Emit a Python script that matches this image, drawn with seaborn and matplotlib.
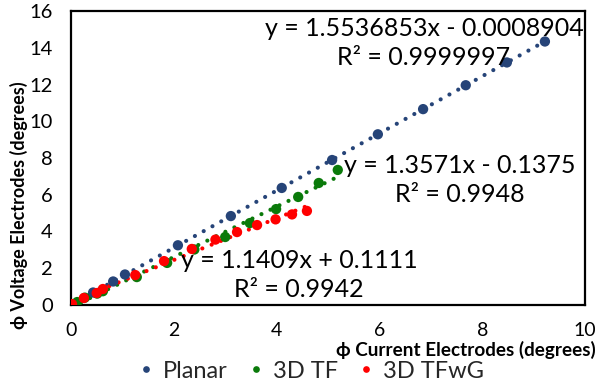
import numpy as np
import pandas as pd
import matplotlib
matplotlib.use("Agg")
import matplotlib.pyplot as plt
import seaborn as sns

# ---- data ----
planar_x = [0.02, 0.43, 0.82, 1.05, 2.08, 3.11, 4.10, 5.08, 5.97, 6.85, 7.68, 8.48, 9.22]
planar_y = [0.02, 0.68, 1.28, 1.66, 3.25, 4.84, 6.37, 7.89, 9.29, 10.66, 11.96, 13.20, 14.34]

tf_x = [0.02, 0.12, 0.27, 0.51, 0.62, 1.28, 1.87, 2.40, 3.00, 3.48, 3.99, 4.42, 4.82, 5.19]
tf_y = [0.00, 0.16, 0.40, 0.62, 0.75, 1.52, 2.29, 3.02, 3.70, 4.46, 5.22, 5.88, 6.64, 7.35]

tfwg_x = [0.02, 0.25, 0.50, 0.62, 1.25, 1.81, 2.35, 2.81, 3.23, 3.62, 3.98, 4.30, 4.59]
tfwg_y = [0.05, 0.38, 0.65, 0.87, 1.63, 2.39, 3.05, 3.56, 3.97, 4.35, 4.66, 4.93, 5.12]

series_names = ["Planar", "3D TF", "3D TFwG"]
equations = ["y = 1.5536853x - 0.0008904\nR² = 0.9999997",
             "y = 1.3571x - 0.1375\nR² = 0.9948",
             "y = 1.1409x + 0.1111\nR² = 0.9942"]
x_label = "ϕ Current Electrodes (degrees)"
y_label = "ϕ Voltage Electrodes (degrees)"

colors = {"Planar": "#264478", "3D TF": "#0A7A0A", "3D TFwG": "#FF0000"}

df = pd.concat([
    pd.DataFrame({"x": planar_x, "y": planar_y, "series": "Planar"}),
    pd.DataFrame({"x": tf_x, "y": tf_y, "series": "3D TF"}),
    pd.DataFrame({"x": tfwg_x, "y": tfwg_y, "series": "3D TFwG"}),
], ignore_index=True)

sns.set_theme(style="white")
plt.rcParams["font.family"] = ["Lato", "DejaVu Sans"]

fig = plt.figure(figsize=(6.02, 3.83), dpi=100)
ax = fig.add_axes([71/602, 1 - 305/383, 514/602, 294/383])

# trendlines
for name in series_names:
    sub = df[df.series == name]
    sns.regplot(data=sub, x="x", y="y", ax=ax, scatter=False, ci=None,
                color=colors[name],
                line_kws=dict(linestyle=(0, (0.01, 2.4)), linewidth=3.0,
                              dash_capstyle="round", zorder=2))

sns.scatterplot(data=df, x="x", y="y", hue="series", hue_order=series_names,
                palette=colors, s=55, edgecolor="none", ax=ax, zorder=3,
                legend=True)

ax.set_xlim(0, 10)
ax.set_ylim(0, 16)
ax.set_xticks(np.arange(0, 11, 2))
ax.set_yticks(np.arange(0, 17, 2))
ax.tick_params(axis="both", length=0, labelsize=14.5, colors="#000000")
ax.tick_params(axis="x", pad=12, labelsize=14)
ax.tick_params(axis="y", pad=13)
for sp in ax.spines.values():
    sp.set_color("black")
    sp.set_linewidth(1.6)

ax.set_xlabel(x_label, fontsize=13.6, fontweight="bold", color="black")
ax.set_ylabel(y_label, fontsize=13.0, fontweight="bold", color="black")
ax.xaxis.set_label_coords(0.768, -0.123)
ax.yaxis.set_label_coords(-0.084, 0.34)

ann_pos = [(424, 43), (460, 180), (299, 275)]
for txt, (px, py) in zip(equations, ann_pos):
    ax.text(px / 602, 1 - py / 383, txt, transform=fig.transFigure,
            ha="center", va="center", multialignment="center",
            fontsize=18, color="black", linespacing=1.3)

leg = ax.legend(loc="center", bbox_to_anchor=(312 / 602, 1 - 371 / 383),
                bbox_transform=fig.transFigure, ncol=3, frameon=False,
                fontsize=17, handlelength=0.5, handletextpad=0.45,
                columnspacing=0.95, markerscale=0.65, title=None,
                borderpad=0.0)

fig.savefig("out.png", dpi=100)
